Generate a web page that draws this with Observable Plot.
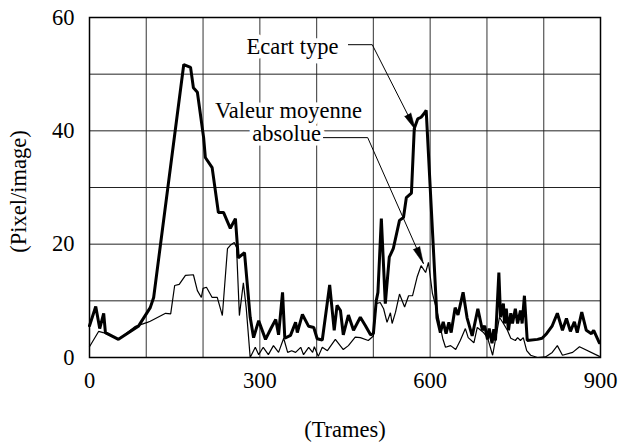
<!DOCTYPE html>
<html>
<head>
<meta charset="utf-8">
<script src="https://cdn.jsdelivr.net/npm/d3@7"></script>
<script src="https://cdn.jsdelivr.net/npm/@observablehq/plot@0.6"></script>
<style>
  html, body { margin: 0; padding: 0; background: white; }
  #chart svg, #chart svg text { font-family: "Liberation Serif", "Times New Roman", serif !important; }
</style>
</head>
<body>
<div id="chart"></div>
<script>
// Ecart type (thick line): frame, value
const ecartFrames = [0,11,18,25,28,51,86,107,113,166,178,183,190,201,204,216,227,236,248,257,262,273,283,289,298,310,320,328,333,340,344,354,363,366,375,386,395,401,410,423,431,436,442,447,456,465,477,486,495,500,505,508,514,521,528,535,546,553,558,567,572,578,584,589,593,612,618,623,628,633,637,644,649,658,665,674,684,692,696,701,704,709,712,715,721,724,729,731,734,738,742,745,750,754,759,762,766,771,789,797,805,815,824,833,840,847,854,859,867,875,884,888,898];
const ecartValues = [5.6,9,5.1,7.8,4.4,3.2,5.5,8.8,10.6,51.7,51.2,47.6,46.8,38.8,35.3,33.5,25.6,25.6,22.8,24.5,17.6,18.5,7.1,3.5,6.5,3.2,5.2,6.7,4,11.5,3.4,3.9,6.2,4.4,7.6,5.5,5.3,3.3,3.1,12.8,4.8,9.2,8.3,4,7.5,4.8,7.1,5.6,4,4.2,10,11.5,24.5,9.5,17.7,19.2,24.2,24.7,28.2,29,40.4,42.1,42.4,43,43.6,7,4.4,6.3,4.2,6.2,4.4,8.8,7.5,11.5,7,3.8,8.6,4.8,5.6,3.2,5.1,2.5,5,3,15,7.1,9.5,6,8.6,4.8,7.8,6,8.6,6,8.3,6,10.9,3,3.2,3.4,4.2,5.6,7.8,4.8,6.9,4.6,6.3,4.4,8,4.8,4.2,4.8,2.6];

// Valeur moyenne absolue (thin line): frame, value
const moyFrames = [0,16,24,51,81,102,107,134,143,150,158,169,183,190,197,200,206,216,225,234,243,248,255,259,264,271,276,283,292,298,306,315,324,333,342,349,356,363,372,377,386,393,396,403,410,419,433,447,456,468,477,491,500,505,512,518,524,530,533,539,546,555,562,569,577,584,592,597,604,613,622,627,636,645,653,662,667,677,683,694,701,710,718,722,729,736,742,750,754,759,764,770,777,789,803,815,824,833,851,863,898];
const moyValues = [1.9,4.6,4.4,3.2,5.5,6.2,6.4,7.8,7.7,12.7,12.9,14.5,14.6,11.8,10.6,12.2,12.4,10.6,10.6,7.4,19.2,19.8,20.3,19.4,7.4,13.2,8.8,0,1.8,0.5,1.8,0.5,2.1,0.9,3.4,0.9,1.2,0.9,1.8,0.5,1.8,0.9,1.9,0.2,1.8,1.2,3.2,1.4,2.1,3.6,3.5,3,3.8,9.5,9.7,8.6,6.2,7.9,6,8,11.2,8.9,10.9,10.9,14.2,16.2,15,16.8,11.3,7.8,3.4,1.8,2.1,1.4,3,5.1,3.5,2.6,5.3,4.4,3.5,0.4,4.8,7.1,6,4.8,3.4,3,3.5,3,3.5,1.2,0.4,0,0.1,0.9,2.1,0.4,0.9,1.9,0.2];

// Axes
const xDomain = [0, 900];
const yDomain = [0, 60];
const xTickLabels = [0, 300, 600, 900];
const yTickLabels = [0, 20, 40, 60];
const xGrid = [100, 200, 300, 400, 500, 600, 700, 800];
const yGrid = [10, 20, 30, 40, 50];
const xTitle = "(Trames)";
const yTitle = "(Pixel/image)";

// Annotations (data coordinates)
const ecartText = ["Ecart type"];
const ecartTextAt = [357.5, 53.6];
const ecartLeaderX = [456, 498, 574];
const ecartLeaderY = [55.2, 55.2, 40.2];
const moyText1 = ["Valeur moyenne"];
const moyText1At = [350.5, 42.3];
const moyText2 = ["absolue"];
const moyText2At = [347, 38.2];
const moyLeaderX = [412, 490, 588];
const moyLeaderY = [38.8, 38.8, 16.6];

const ecart = ecartFrames.map((f, i) => ({frame: f, value: ecartValues[i]}));
const moy = moyFrames.map((f, i) => ({frame: f, value: moyValues[i]}));
const ecartLeader = ecartLeaderX.map((x, i) => ({x, y: ecartLeaderY[i]}));
const moyLeader = moyLeaderX.map((x, i) => ({x, y: moyLeaderY[i]}));

const W = 618, H = 444, mL = 89, mR = 18, mT = 17, mB = 87;
const sx = Plot.scale({x: {domain: xDomain, range: [mL, W - mR]}});
const sy = Plot.scale({y: {domain: yDomain, range: [H - mB, mT]}});
function headAngle(leader) {
  const a = leader[leader.length - 2], b = leader[leader.length - 1];
  const dx = sx.apply(b.x) - sx.apply(a.x);
  const dy = sy.apply(b.y) - sy.apply(a.y);
  return Math.atan2(dx, -dy) * 180 / Math.PI;
}
const heads = [
  {...ecartLeader[2], angle: headAngle(ecartLeader)},
  {...moyLeader[2], angle: headAngle(moyLeader)}
];

const font = "Liberation Serif";
const fs = 22.5;
const T = {fontFamily: font, fontSize: fs, fill: "black"};

const chart = Plot.plot({
  width: W, height: H,
  marginLeft: mL, marginRight: mR, marginTop: mT, marginBottom: mB,
  style: {fontFamily: font, fontSize: fs + "px", background: "white", color: "black"},
  x: {domain: xDomain},
  y: {domain: yDomain},
  marks: [
    Plot.gridX(xGrid, {stroke: "#555", strokeOpacity: 1, strokeWidth: 1.2}),
    Plot.gridY(yGrid, {stroke: "#222", strokeOpacity: 1, strokeWidth: 1}),
    Plot.axisX(xTickLabels, {tickSize: 0, tickPadding: 15, label: null, ...T}),
    Plot.axisY(yTickLabels, {tickSize: 0, tickPadding: 15, label: null, ...T}),
    Plot.line(moy, {x: "frame", y: "value", stroke: "black", strokeWidth: 1.2, strokeLinejoin: "miter"}),
    Plot.line(ecart, {x: "frame", y: "value", stroke: "black", strokeWidth: 3, strokeLinejoin: "miter"}),
    Plot.frame({stroke: "black", strokeWidth: 1.5}),
    Plot.text(ecartText, {x: () => ecartTextAt[0], y: () => ecartTextAt[1], text: d => d, textAnchor: "middle", lineAnchor: "bottom", ...T, stroke: "white", strokeWidth: 9, strokeLinejoin: "round"}),
    Plot.text(moyText1, {x: () => moyText1At[0], y: () => moyText1At[1], text: d => d, textAnchor: "middle", lineAnchor: "bottom", ...T, stroke: "white", strokeWidth: 9, strokeLinejoin: "round"}),
    Plot.text(moyText2, {x: () => moyText2At[0], y: () => moyText2At[1], text: d => d, textAnchor: "middle", lineAnchor: "bottom", ...T, stroke: "white", strokeWidth: 9, strokeLinejoin: "round"}),
    Plot.line(ecartLeader, {x: "x", y: "y", stroke: "black", strokeWidth: 1}),
    Plot.line(moyLeader, {x: "x", y: "y", stroke: "black", strokeWidth: 1}),
    Plot.vector(heads, {x: "x", y: "y", rotate: "angle", length: 17, r: 3.5, shape: "spike", anchor: "end", fill: "black", stroke: "black", strokeWidth: 0.5}),
    Plot.text([xTitle], {frameAnchor: "bottom", text: d => d, dy: 79, lineAnchor: "bottom", textAnchor: "middle", ...T}),
    Plot.text([yTitle], {frameAnchor: "left", text: d => d, dx: -71, dy: 4, rotate: -90, lineAnchor: "middle", textAnchor: "middle", ...T})
  ]
});
document.getElementById("chart").appendChild(chart);
</script>
</body>
</html>
